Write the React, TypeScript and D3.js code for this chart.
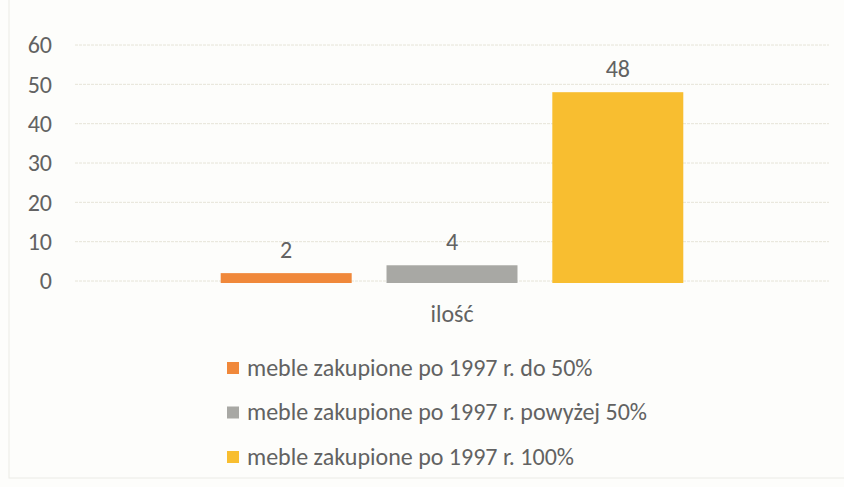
import React from "react";
import * as d3 from "d3";

const categories = ["ilość"];
const seriesNames = [
  "meble zakupione po 1997 r. do 50%",
  "meble zakupione po 1997 r. powyżej 50%",
  "meble zakupione po 1997 r. 100%",
];
const seriesValues = [2, 4, 48];
const seriesColors = ["#F0883A", "#A8A8A4", "#F8BE30"];
const yTicks = [0, 10, 20, 30, 40, 50, 60];

const W = 844;
const H = 487;
const plot = { left: 75, right: 829, top: 45, bottom: 281 };
const font = "Carlito, 'Open Sans', 'Noto Sans', sans-serif";
const textColor = "#626262";
const fs = 24;

export default function App() {
  const y = d3.scaleLinear().domain([0, 60]).range([plot.bottom, plot.top]);
  const x0 = d3.scaleBand().domain(categories).range([plot.left, plot.right]).paddingInner(0).paddingOuter(0.315);
  const x1 = d3
    .scaleBand()
    .domain(seriesNames)
    .range([0, x0.bandwidth()])
    .paddingInner(0.21);

  return (
    <svg
      width={W}
      height={H}
      style={{ position: "fixed", left: 0, top: 0, display: "block" }}
      fontFamily={font}
    >
      <rect x={0} y={0} width={W} height={H} fill="#fdfdfb" />
      <rect x={9} y={-5} width={W + 10} height={H - 5 + 1} fill="none" stroke="#ebebe6" strokeWidth={1} />
      {yTicks.map((t) => (
        <g key={t}>
          <line
            x1={plot.left}
            x2={plot.right}
            y1={y(t)}
            y2={y(t)}
            stroke="#e6e4d8"
            strokeWidth={1}
            strokeDasharray="3,1"
          />
          <text
            x={52}
            y={y(t)}
            dy="0.35em"
            textAnchor="end"
            fontSize={fs}
            fill={textColor}
          >
            {t}
          </text>
        </g>
      ))}
      {categories.map((c) => (
        <g key={c} transform={`translate(${x0(c)},0)`}>
          {seriesNames.map((s, i) => {
            const v = seriesValues[i];
            const bx = x1(s)!;
            return (
              <g key={s}>
                <rect
                  x={bx}
                  y={y(v)}
                  width={x1.bandwidth()}
                  height={y(0) - y(v) + 2}
                  fill={seriesColors[i]}
                />
                <text
                  x={bx + x1.bandwidth() / 2}
                  y={y(v) - 15}
                  textAnchor="middle"
                  fontSize={fs}
                  fill={textColor}
                >
                  {v}
                </text>
              </g>
            );
          })}
          <text
            x={x0.bandwidth() / 2}
            y={322}
            textAnchor="middle"
            fontSize={fs}
            fill={textColor}
          >
            {c}
          </text>
        </g>
      ))}
      {seriesNames.map((s, i) => (
        <g key={s} transform={`translate(227,${368 + i * 44.5})`}>
          <rect x={0} y={-6} width={12} height={12} fill={seriesColors[i]} />
          <text x={20} y={0} dy="0.33em" fontSize={fs} fill={textColor}>
            {s}
          </text>
        </g>
      ))}
    </svg>
  );
}
